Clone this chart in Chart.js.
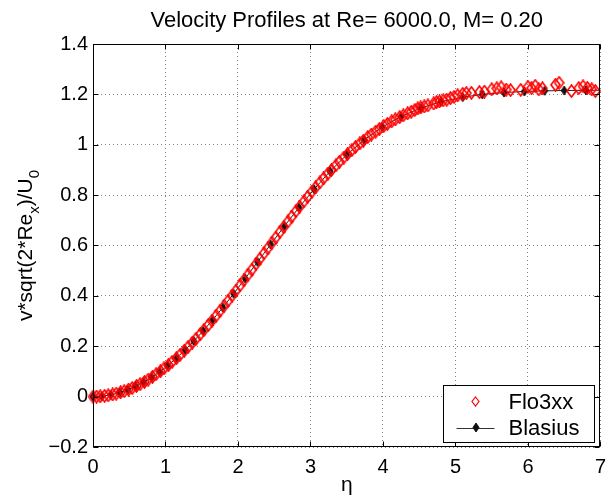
<!DOCTYPE html>
<html>
<head>
<meta charset="utf-8">
<title>Velocity Profiles</title>
<script src="https://cdn.jsdelivr.net/npm/chart.js@4.4.0/dist/chart.umd.min.js"></script>
<style>
  html, body { margin: 0; padding: 0; background: #fff; }
  canvas { display: block; }
</style>
</head>
<body>
<canvas id="vpChart" width="614" height="498"></canvas>
<script>
// ── data ────────────────────────────────────────────────────────────────────
const titleText = 'Velocity Profiles at Re= 6000.0, M= 0.20';
const xLabel = 'η';
const yLabelParts = [['v*sqrt(2*Re', 0], ['x', 1], [')/U', 0], ['0', 1]]; // [text, isSubscript]

const xTicks = [0, 1, 2, 3, 4, 5, 6, 7];
const yTicks = [-0.2, 0, 0.2, 0.4, 0.6, 0.8, 1, 1.2, 1.4];
const yTickLabels = ['−0.2', '0', '0.2', '0.4', '0.6', '0.8', '1', '1.2', '1.4'];

// Flo3xx (computed) points
const floEta = [
  0.00, 0.05, 0.10, 0.16, 0.21, 0.27, 0.32, 0.38, 0.43, 0.49,
  0.54, 0.60, 0.65, 0.71, 0.76, 0.82, 0.87, 0.93, 0.98, 1.04,
  1.09, 1.15, 1.20, 1.26, 1.31, 1.37, 1.42, 1.48, 1.53, 1.59,
  1.64, 1.70, 1.75, 1.81, 1.86, 1.92, 1.97, 2.03, 2.08, 2.14,
  2.19, 2.25, 2.30, 2.36, 2.41, 2.47, 2.52, 2.58, 2.63, 2.69,
  2.74, 2.80, 2.85, 2.91, 2.96, 3.02, 3.07, 3.13, 3.18, 3.24,
  3.29, 3.35, 3.40, 3.46, 3.51, 3.57, 3.62, 3.68, 3.73, 3.79,
  3.84, 3.90, 3.95, 4.01, 4.06, 4.12, 4.17, 4.23, 4.28, 4.34,
  4.39, 4.44, 4.48, 4.52, 4.57, 4.62, 4.70, 4.74, 4.78, 4.83,
  4.88, 4.93, 4.98, 5.03, 5.10, 5.15, 5.22, 5.33, 5.40, 5.50,
  5.57, 5.63, 5.70, 5.76, 5.90, 6.00, 6.05, 6.10, 6.15, 6.20,
  6.38, 6.43, 6.60, 6.70, 6.76, 6.82, 6.88, 6.93
];
const floV = [
  0.0000, 0.0003, 0.0012, 0.0030, 0.0052, 0.0086, 0.0120, 0.0170, 0.0217, 0.0282,
  0.0342, 0.0422, 0.0494, 0.0585, 0.0674, 0.0785, 0.0890, 0.1012, 0.1120, 0.1255,
  0.1380, 0.1526, 0.1659, 0.1826, 0.1966, 0.2143, 0.2297, 0.2480, 0.2645, 0.2841,
  0.3010, 0.3218, 0.3395, 0.3608, 0.3792, 0.4011, 0.4200, 0.4425, 0.4616, 0.4845,
  0.5037, 0.5268, 0.5462, 0.5695, 0.5888, 0.6119, 0.6310, 0.6541, 0.6730, 0.6953,
  0.7140, 0.7363, 0.7541, 0.7755, 0.7930, 0.8139, 0.8305, 0.8503, 0.8664, 0.8850,
  0.9000, 0.9178, 0.9327, 0.9492, 0.9627, 0.9783, 0.9908, 1.0050, 1.0163, 1.0302,
  1.0406, 1.0525, 1.0625, 1.0740, 1.0828, 1.0927, 1.1005, 1.1095, 1.1165, 1.1246,
  1.1312, 1.1380, 1.1440, 1.1480, 1.1520, 1.1560, 1.1640, 1.1690, 1.1720, 1.1760,
  1.1790, 1.1850, 1.1900, 1.1960, 1.2020, 1.2050, 1.2060, 1.2090, 1.2110, 1.2200,
  1.2240, 1.2280, 1.2190, 1.2170, 1.2180, 1.2300, 1.2250, 1.2340, 1.2200, 1.2240,
  1.2380, 1.2460, 1.2130, 1.2250, 1.2320, 1.2260, 1.2200, 1.2130
];

// Blasius similarity solution
const blaEta = [
  0, 0.12, 0.245, 0.37, 0.48, 0.59, 0.70, 0.81, 0.92, 1.03,
  1.15, 1.27, 1.39, 1.52, 1.65, 1.79, 1.94, 2.10, 2.27, 2.45,
  2.64, 2.84, 3.05, 3.27, 3.50, 3.74, 3.99, 4.25, 4.52, 4.80,
  5.10, 5.37, 5.67, 5.95, 6.23, 6.50, 6.80, 7.10
];
const blaV = [
  0, 0.0017, 0.0070, 0.0161, 0.0270, 0.0408, 0.0573, 0.0766, 0.0985, 0.1231,
  0.1526, 0.1850, 0.2204, 0.2610, 0.3044, 0.3536, 0.4083, 0.4692, 0.5346, 0.6042,
  0.6767, 0.7504, 0.8235, 0.8943, 0.9601, 1.0190, 1.0702, 1.1124, 1.1457, 1.1710,
  1.1889, 1.1998, 1.2073, 1.2115, 1.2140, 1.2153, 1.2161, 1.2164
];

// ── helpers ─────────────────────────────────────────────────────────────────
const FONT = "'Liberation Sans', Arial, Helvetica, sans-serif";
Chart.defaults.font.family = FONT;
Chart.defaults.color = '#000';

/** diamond marker as a small canvas (MATLAB 'd' marker is a bit taller than wide) */
function diamond(w, h, stroke, fill, lw) {
  const c = document.createElement('canvas');
  c.width = w + 2; c.height = h + 2;
  const g = c.getContext('2d');
  g.beginPath();
  g.moveTo(w / 2 + 1, 1);
  g.lineTo(w + 1, h / 2 + 1);
  g.lineTo(w / 2 + 1, h + 1);
  g.lineTo(1, h / 2 + 1);
  g.closePath();
  if (fill) { g.fillStyle = fill; g.fill(); }
  g.lineWidth = lw;
  g.strokeStyle = stroke;
  g.stroke();
  return c;
}

const redDiamond = diamond(9, 12, '#ff0000', null, 1.6);
const blackDiamond = diamond(6, 9, '#111', '#111', 1);

// box + inward tick marks, the way MATLAB draws its axes
const axesBox = {
  id: 'axesBox',
  afterDatasetsDraw(chart) {
    const { ctx, chartArea: a, scales: { x, y } } = chart;
    const L = Math.round(a.left) + 0.5, R = Math.round(a.right) - 0.5;
    const T = Math.round(a.top) + 0.5, B = Math.round(a.bottom) - 0.5;
    ctx.save();
    ctx.strokeStyle = '#000';
    ctx.lineWidth = 1;
    ctx.strokeRect(L, T, R - L, B - T);
    ctx.beginPath();
    const tl = 5;
    xTicks.forEach(v => {
      const px = Math.round(x.getPixelForValue(v)) + 0.5;
      ctx.moveTo(px, B); ctx.lineTo(px, B - tl);
      ctx.moveTo(px, T); ctx.lineTo(px, T + tl);
    });
    yTicks.forEach(v => {
      const py = Math.round(y.getPixelForValue(v)) + 0.5;
      ctx.moveTo(L, py); ctx.lineTo(L + tl, py);
      ctx.moveTo(R, py); ctx.lineTo(R - tl, py);
    });
    ctx.stroke();
    ctx.restore();
  }
};

// y label with TeX-like subscripts
const yTitle = {
  id: 'yTitle',
  afterDraw(chart) {
    const { ctx, chartArea: a } = chart;
    const main = '21px ' + FONT, sub = '15px ' + FONT;
    ctx.save();
    let total = 0;
    yLabelParts.forEach(([t, s]) => { ctx.font = s ? sub : main; total += ctx.measureText(t).width; });
    ctx.translate(32, (a.top + a.bottom) / 2);
    ctx.rotate(-Math.PI / 2);
    ctx.fillStyle = '#000';
    ctx.textBaseline = 'alphabetic';
    let pos = -total / 2;
    yLabelParts.forEach(([t, s]) => {
      ctx.font = s ? sub : main;
      ctx.fillText(t, pos, s ? 7 : 0);
      pos += ctx.measureText(t).width;
    });
    ctx.restore();
  }
};

// legend box in the lower right corner of the axes
const boxLegend = {
  id: 'boxLegend',
  afterDraw(chart) {
    const { ctx, chartArea: a } = chart;
    const w = 151, h = 57;
    const x0 = Math.round(a.right) - 6 - w + 0.5, y0 = Math.round(a.bottom) - 5 - h + 0.5;
    ctx.save();
    ctx.fillStyle = '#fff';
    ctx.fillRect(x0, y0, w, h);
    ctx.strokeStyle = '#000';
    ctx.lineWidth = 1;
    ctx.strokeRect(x0, y0, w, h);
    ctx.font = '22px ' + FONT;
    ctx.fillStyle = '#000';
    ctx.textBaseline = 'middle';
    const ds = chart.data.datasets;
    const rows = [y0 + 16, y0 + 42];
    const mx = x0 + 32;
    // Flo3xx: marker only (legend marker drawn thinner, as in MATLAB)
    const m0 = legendRed, m1 = ds[1].pointStyle;
    ctx.drawImage(m0, Math.round(mx - m0.width / 2), Math.round(rows[0] - m0.height / 2));
    ctx.fillText(ds[0].label, x0 + 65, rows[0] + 1);
    // Blasius: line + marker
    ctx.strokeStyle = '#333';
    ctx.beginPath();
    ctx.moveTo(x0 + 13, Math.round(rows[1]) + 0.5);
    ctx.lineTo(x0 + 51, Math.round(rows[1]) + 0.5);
    ctx.stroke();
    ctx.drawImage(m1, Math.round(mx - m1.width / 2), Math.round(rows[1] - m1.height / 2));
    ctx.fillText(ds[1].label, x0 + 65, rows[1] + 1);
    ctx.restore();
  }
};
const legendRed = diamond(7, 9, '#ff0000', null, 1.2);

// ── chart ───────────────────────────────────────────────────────────────────
new Chart(document.getElementById('vpChart'), {
  type: 'scatter',
  data: {
    datasets: [
      {
        label: 'Flo3xx',
        data: floEta.map((e, i) => ({ x: e, y: floV[i] })),
        pointStyle: redDiamond,
        pointRadius: 5,
        showLine: false,
        clip: false,
        order: 0,
      },
      {
        label: 'Blasius',
        data: blaEta.map((e, i) => ({ x: e, y: blaV[i] })),
        pointStyle: blackDiamond,
        pointRadius: 3,
        showLine: true,
        borderColor: '#222',
        borderWidth: 1,
        tension: 0,
        clip: { left: 8, top: 8, right: 0, bottom: 8 },
        order: 1,
      },
    ],
  },
  options: {
    responsive: false,
    animation: false,
    layout: { padding: { left: 0, right: 10, top: 0, bottom: 0 } },
    scales: {
      x: {
        type: 'linear',
        min: 0, max: 7,
        afterBuildTicks: s => { s.ticks = xTicks.map(v => ({ value: v })); },
        afterFit: s => { s.height = 51; },
        ticks: { autoSkip: false, maxRotation: 0, padding: 8, font: { size: 20 }, color: '#000' },
        grid: { drawTicks: false, color: '#808080', lineWidth: 1 },
        border: { display: false, dash: [1, 3] },
        title: { display: true, text: xLabel, font: { size: 21 }, color: '#000', padding: { top: 0, bottom: 0 } },
      },
      y: {
        type: 'linear',
        min: -0.2, max: 1.4,
        afterBuildTicks: s => { s.ticks = yTicks.map(v => ({ value: v })); },
        afterFit: s => { s.width = 93; },
        ticks: { autoSkip: false, padding: 5, font: { size: 20 }, color: '#000', callback: (v, i) => yTickLabels[i] },
        grid: { drawTicks: false, color: '#808080', lineWidth: 1 },
        border: { display: false, dash: [1, 3] },
      },
    },
    plugins: {
      legend: { display: false },
      tooltip: { enabled: false },
      title: {
        display: true,
        fullSize: false,
        text: titleText,
        color: '#000',
        font: { size: 22, weight: 'normal' },
        padding: { top: 7.5, bottom: 10.1 },
      },
    },
  },
  plugins: [axesBox, yTitle, boxLegend],
});
</script>
</body>
</html>
